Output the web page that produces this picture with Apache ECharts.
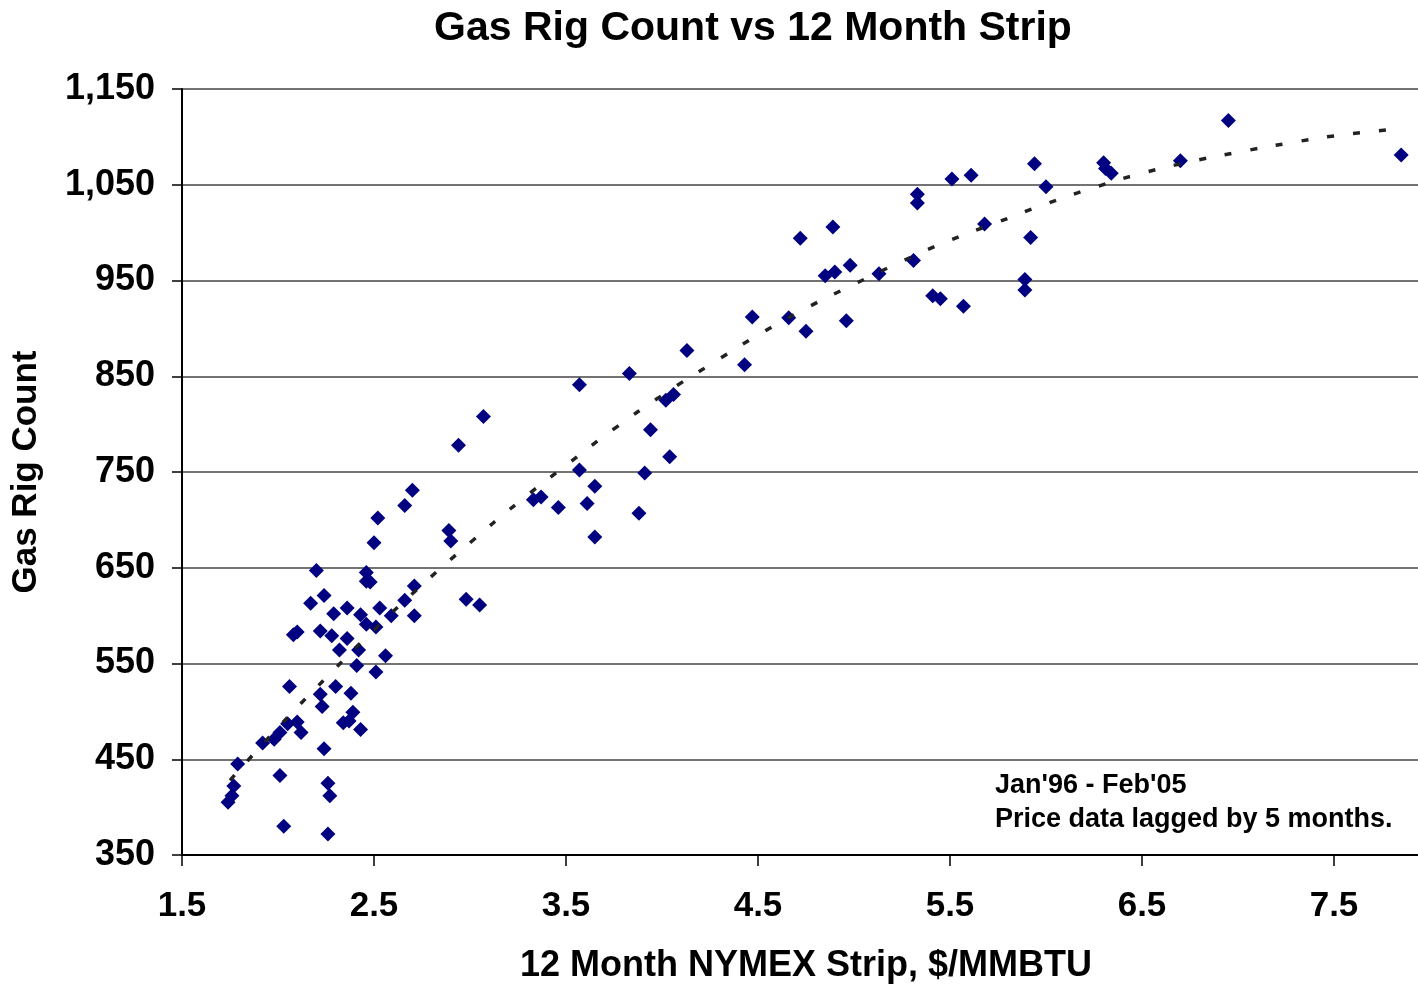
<!DOCTYPE html>
<html>
<head>
<meta charset="utf-8">
<script src="https://cdn.jsdelivr.net/npm/echarts@6/dist/echarts.min.js"></script>
<style>
html,body{margin:0;padding:0;background:#fff;overflow:hidden;}
#chart{width:1418px;height:989px;}
</style>
</head>
<body>
<div id="chart"></div>
<script>
// 12 Month NYMEX strip price ($/MMBTU), lagged 5 months
const stripPrice = [
  6.95, 7.85, 6.30, 6.31, 6.34, 6.70, 5.94, 6.00, 5.61, 5.51,
  5.33, 5.33, 5.68, 5.92, 5.31, 5.89, 5.89, 5.41, 5.45, 5.57,
  5.13, 4.98, 4.90, 4.85, 4.89, 4.72, 4.47, 4.66, 4.96, 4.75,
  4.43, 4.13, 4.06, 4.02, 3.83, 3.57, 3.94, 4.04, 3.57, 3.91,
  3.65, 3.37, 3.33, 3.46, 3.61, 3.88, 3.65, 3.07, 2.94, 2.70,
  2.66, 2.52, 2.89, 2.90, 2.50, 2.98, 3.05,
  2.20, 2.46, 2.46, 2.48, 2.24, 2.71, 2.17, 2.66, 2.36, 2.53,
  2.29, 2.43, 2.59, 2.71, 2.46, 2.51, 2.08, 2.10, 2.22, 2.28,
  2.36, 2.32, 2.42, 2.56, 2.41, 2.51, 2.06, 2.30, 2.22, 2.38,
  2.23, 2.39, 2.37, 2.34, 2.43, 2.10, 2.05, 2.01, 1.98, 2.12,
  1.92, 2.24, 1.79, 2.01, 1.77, 2.26, 1.76, 1.74, 2.27, 2.03,
  2.26
];
// Gas rig count
const rigCount = [
  1117, 1081, 1073, 1067, 1062, 1075, 1072, 1048, 1060, 1056,
  1040, 1031, 1009, 995, 971, 951, 940, 934, 931, 923,
  957, 966, 959, 955, 1006, 994, 912, 911, 908, 897,
  862, 877, 831, 825, 853, 841, 794, 766, 752, 749,
  735, 724, 721, 713, 717, 707, 682, 808, 778, 731,
  715, 702, 689, 678, 676, 617, 611,
  647, 645, 636, 635, 621, 631, 613, 616, 608, 608,
  602, 601, 600, 600, 591, 588, 580, 583, 584, 579,
  576, 564, 564, 558, 548, 541, 526, 526, 518, 519,
  505, 499, 490, 488, 481, 489, 487, 478, 471, 478,
  467, 461, 445, 433, 422, 425, 412, 405, 412, 380,
  372
];
// Trend line
const trendX = [1.75, 2.0, 2.25, 2.5, 2.75, 3.0, 3.25, 3.5, 3.75, 4.0, 4.25, 4.5, 4.75, 5.0, 5.25, 5.5, 5.75, 6.0, 6.25, 6.5, 6.75, 7.0, 7.25, 7.5, 7.82];
const trendY = [428, 483, 535, 585, 632, 676, 718, 757, 795, 830, 862, 893, 921, 946, 970, 992, 1011, 1030, 1047, 1062, 1074, 1084, 1093, 1101, 1108];

const titleText = 'Gas Rig Count vs 12 Month Strip';
const xName = '12 Month NYMEX Strip, $/MMBTU';
const yName = 'Gas Rig Count';
const noteText = "Jan'96 - Feb'05\nPrice data lagged by 5 months.";

const FF = '"Liberation Sans", Arial, Helvetica, sans-serif';
const scatterData = stripPrice.map((x, i) => [x, rigCount[i]]);
const trendData = trendX.map((x, i) => [x, trendY[i]]);

const chart = echarts.init(document.getElementById('chart'), null, {renderer: 'canvas'});
chart.setOption({
  animation: false,
  backgroundColor: '#fff',
  title: {
    text: titleText, left: 748, top: 3, textAlign: 'center',
    textStyle: {fontFamily: FF, fontSize: 41, fontWeight: 'bold', color: '#000'}
  },
  grid: {left: 182, top: 89, right: 0, bottom: 133, containLabel: false},
  xAxis: {
    type: 'value', min: 1.5, max: 7.9375, interval: 1,
    name: xName, nameLocation: 'middle', nameGap: 93,
    nameTextStyle: {fontFamily: FF, fontSize: 36, fontWeight: 'bold', color: '#000', padding: [0, 0, 0, 12]},
    axisLine: {show: true, onZero: false, lineStyle: {color: '#000', width: 2}},
    axisTick: {show: true, length: 11, lineStyle: {color: '#000', width: 1.5}},
    axisLabel: {margin: 34, fontFamily: FF, fontSize: 35, fontWeight: 'bold', color: '#000',
      showMaxLabel: false, formatter: v => v.toFixed(1)},
    splitLine: {show: false}
  },
  yAxis: {
    type: 'value', min: 350, max: 1150, interval: 100,
    name: yName, nameLocation: 'middle', nameGap: 138,
    nameTextStyle: {fontFamily: FF, fontSize: 35, fontWeight: 'bold', color: '#000'},
    axisLine: {show: true, lineStyle: {color: '#000', width: 2}},
    axisTick: {show: true, length: 10, lineStyle: {color: '#000', width: 1.5}},
    axisLabel: {margin: 27, fontFamily: FF, fontSize: 36, fontWeight: 'bold', color: '#000',
      formatter: v => v.toLocaleString('en-US')},
    splitLine: {show: true, lineStyle: {color: '#444', width: 1.5}}
  },
  graphic: [{
    type: 'text', left: 995, top: 769,
    style: {text: noteText, font: 'bold 27px ' + FF, fill: '#000', lineHeight: 34}
  }],
  series: [
    {
      type: 'scatter', data: scatterData, symbol: 'diamond', symbolSize: 15,
      itemStyle: {color: '#000080', opacity: 1}, z: 2
    },
    {
      type: 'line', data: trendData, smooth: true, symbol: 'none', z: 3,
      lineStyle: {color: '#222', width: 3.5, type: [7, 19]}
    }
  ]
});
</script>
</body>
</html>
